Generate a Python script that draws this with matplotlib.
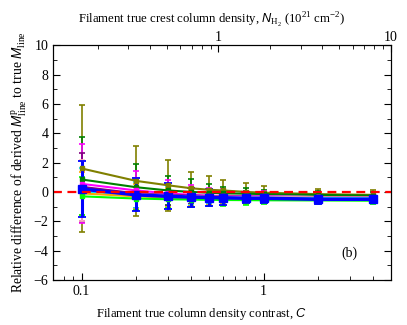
import matplotlib
matplotlib.use("Agg")
import matplotlib.pyplot as plt
import numpy as np
from matplotlib.ticker import LogLocator, NullFormatter, FixedLocator, FixedFormatter, MultipleLocator

plt.rcParams['font.family'] = 'Liberation Serif'
plt.rcParams['mathtext.fontset'] = 'custom'
plt.rcParams['mathtext.rm'] = 'Liberation Serif'
plt.rcParams['mathtext.it'] = 'Liberation Sans:italic'
plt.rcParams['axes.unicode_minus'] = True

# column density contrast values
C = [0.1, 0.2, 0.3, 0.4, 0.5, 0.6, 0.8, 1, 2, 4]

# relative difference (value, error) per model
olive = [1.6, 0.75, 0.45, 0.25, 0.15, 0.1, 0.0, -0.05, -0.15, -0.2]
olive_err = [4.3, 2.4, 1.72, 1.13, 0.95, 0.72, 0.6, 0.45, 0.33, 0.3]
green = [0.85, 0.32, 0.1, 0.0, -0.05, -0.1, -0.12, -0.15, -0.2, -0.25]
green_err = [2.9, 1.55, 1.0, 0.85, 0.6, 0.42, 0.37, 0.3, 0.25, 0.22]
magenta = [0.55, 0.1, -0.1, -0.2, -0.25, -0.28, -0.3, -0.3, -0.35, -0.38]
magenta_err = [2.7, 1.3, 0.9, 0.68, 0.55, 0.45, 0.38, 0.33, 0.28, 0.25]
purple = [0.35, -0.1, -0.2, -0.25, -0.28, -0.3, -0.32, -0.33, -0.35, -0.36]
purple_err = [2.3, 1.0, 0.75, 0.6, 0.5, 0.42, 0.35, 0.3, 0.27, 0.24]
pink = [0.1, -0.15, -0.25, -0.3, -0.32, -0.33, -0.35, -0.35, -0.37, -0.38]
pink_err = [2.1, 1.1, 0.8, 0.62, 0.52, 0.45, 0.37, 0.32, 0.28, 0.25]
cyan = [0.05, -0.2, -0.3, -0.35, -0.37, -0.38, -0.4, -0.4, -0.42, -0.43]
cyan_err = [1.6, 0.9, 0.7, 0.55, 0.48, 0.42, 0.35, 0.3, 0.27, 0.24]
orange = [-0.1, -0.3, -0.38, -0.42, -0.44, -0.45, -0.46, -0.47, -0.48, -0.5]
orange_err = [1.45, 0.85, 0.65, 0.52, 0.45, 0.4, 0.34, 0.3, 0.26, 0.24]
lime = [-0.3, -0.45, -0.5, -0.52, -0.54, -0.55, -0.56, -0.57, -0.58, -0.6]
lime_err = [1.3, 0.8, 0.6, 0.5, 0.43, 0.38, 0.32, 0.28, 0.25, 0.22]
blue = [0.2, -0.2, -0.3, -0.35, -0.38, -0.4, -0.43, -0.43, -0.5, -0.5]
blue_err = [1.9, 1.12, 0.88, 0.65, 0.56, 0.48, 0.35, 0.33, 0.3, 0.25]

series = [
    (olive, olive_err, '#808000'),
    (green, green_err, '#008000'),
    (magenta, magenta_err, '#ff00ff'),
    (purple, purple_err, '#800080'),
    (pink, pink_err, '#ffb6c1'),
    (cyan, cyan_err, '#00e5ff'),
    (orange, orange_err, '#ffa500'),
    (lime, lime_err, '#00ff00'),
]

fig = plt.figure(figsize=(4.07, 3.25), dpi=100)
ax = fig.add_axes([0.131, 0.1385, 0.829, 0.7225])

for vals, err, col in series:
    ax.errorbar(C, vals, yerr=err, color=col, lw=1.5, elinewidth=1.2,
                capsize=2.5, capthick=1.2, marker='s', ms=2.5, mec=col)
ax.errorbar(C, blue, yerr=blue_err, color='#0000ff', lw=2.5, elinewidth=2.2,
            capsize=3, capthick=1.3, marker='s', ms=6)

ax.axhline(0, color='red', ls=(0, (4, 2.5)), lw=1.6, zorder=10)

ax.set_xscale('log')
ax.set_xlim(0.07, 5)
ax.set_ylim(-6, 10)
ax.xaxis.set_major_locator(FixedLocator([0.1, 1]))
ax.xaxis.set_major_formatter(FixedFormatter(['0.1', '1']))
ax.xaxis.set_minor_locator(LogLocator(base=10, subs=np.arange(2, 10)))
ax.xaxis.set_minor_formatter(NullFormatter())
ax.yaxis.set_major_locator(MultipleLocator(2))
ax.yaxis.set_minor_locator(MultipleLocator(1))
ax.tick_params(which='both', direction='in', right=True, labelsize=10)
ax.tick_params(which='major', length=5)
ax.tick_params(which='minor', length=3)
ax.set_xlabel('Filament true column density contrast, $C$', fontsize=9.2, labelpad=6)
ax.xaxis.set_label_coords(0.44, -0.11)
ax.set_ylabel('Relative difference of derived $M_{\\rm line}^{\\rm p}$ to true $M_{\\rm line}$',
              fontsize=9.8, labelpad=3)
ax.text(0.879, 0.115, '(b)', transform=ax.transAxes, ha='center', va='center', fontsize=10)

top = ax.twiny()
top.set_xscale('log')
top.set_xlim(0.11, 10)
top.xaxis.set_major_locator(FixedLocator([1, 10]))
top.xaxis.set_major_formatter(FixedFormatter(['1', '10']))
top.xaxis.set_minor_locator(LogLocator(base=10, subs=np.arange(2, 10)))
top.xaxis.set_minor_formatter(NullFormatter())
top.tick_params(which='both', direction='in', labelsize=10, pad=1)
top.tick_params(which='major', length=5)
top.tick_params(which='minor', length=3)
top.set_xlabel('Filament true crest column density, $N_{\\rm H_2}$ (10$^{21}$ cm$^{-2}$)',
               fontsize=9.2, labelpad=4)
top.xaxis.set_label_coords(0.47, 1.095)

fig.savefig('out.png', dpi=100)
